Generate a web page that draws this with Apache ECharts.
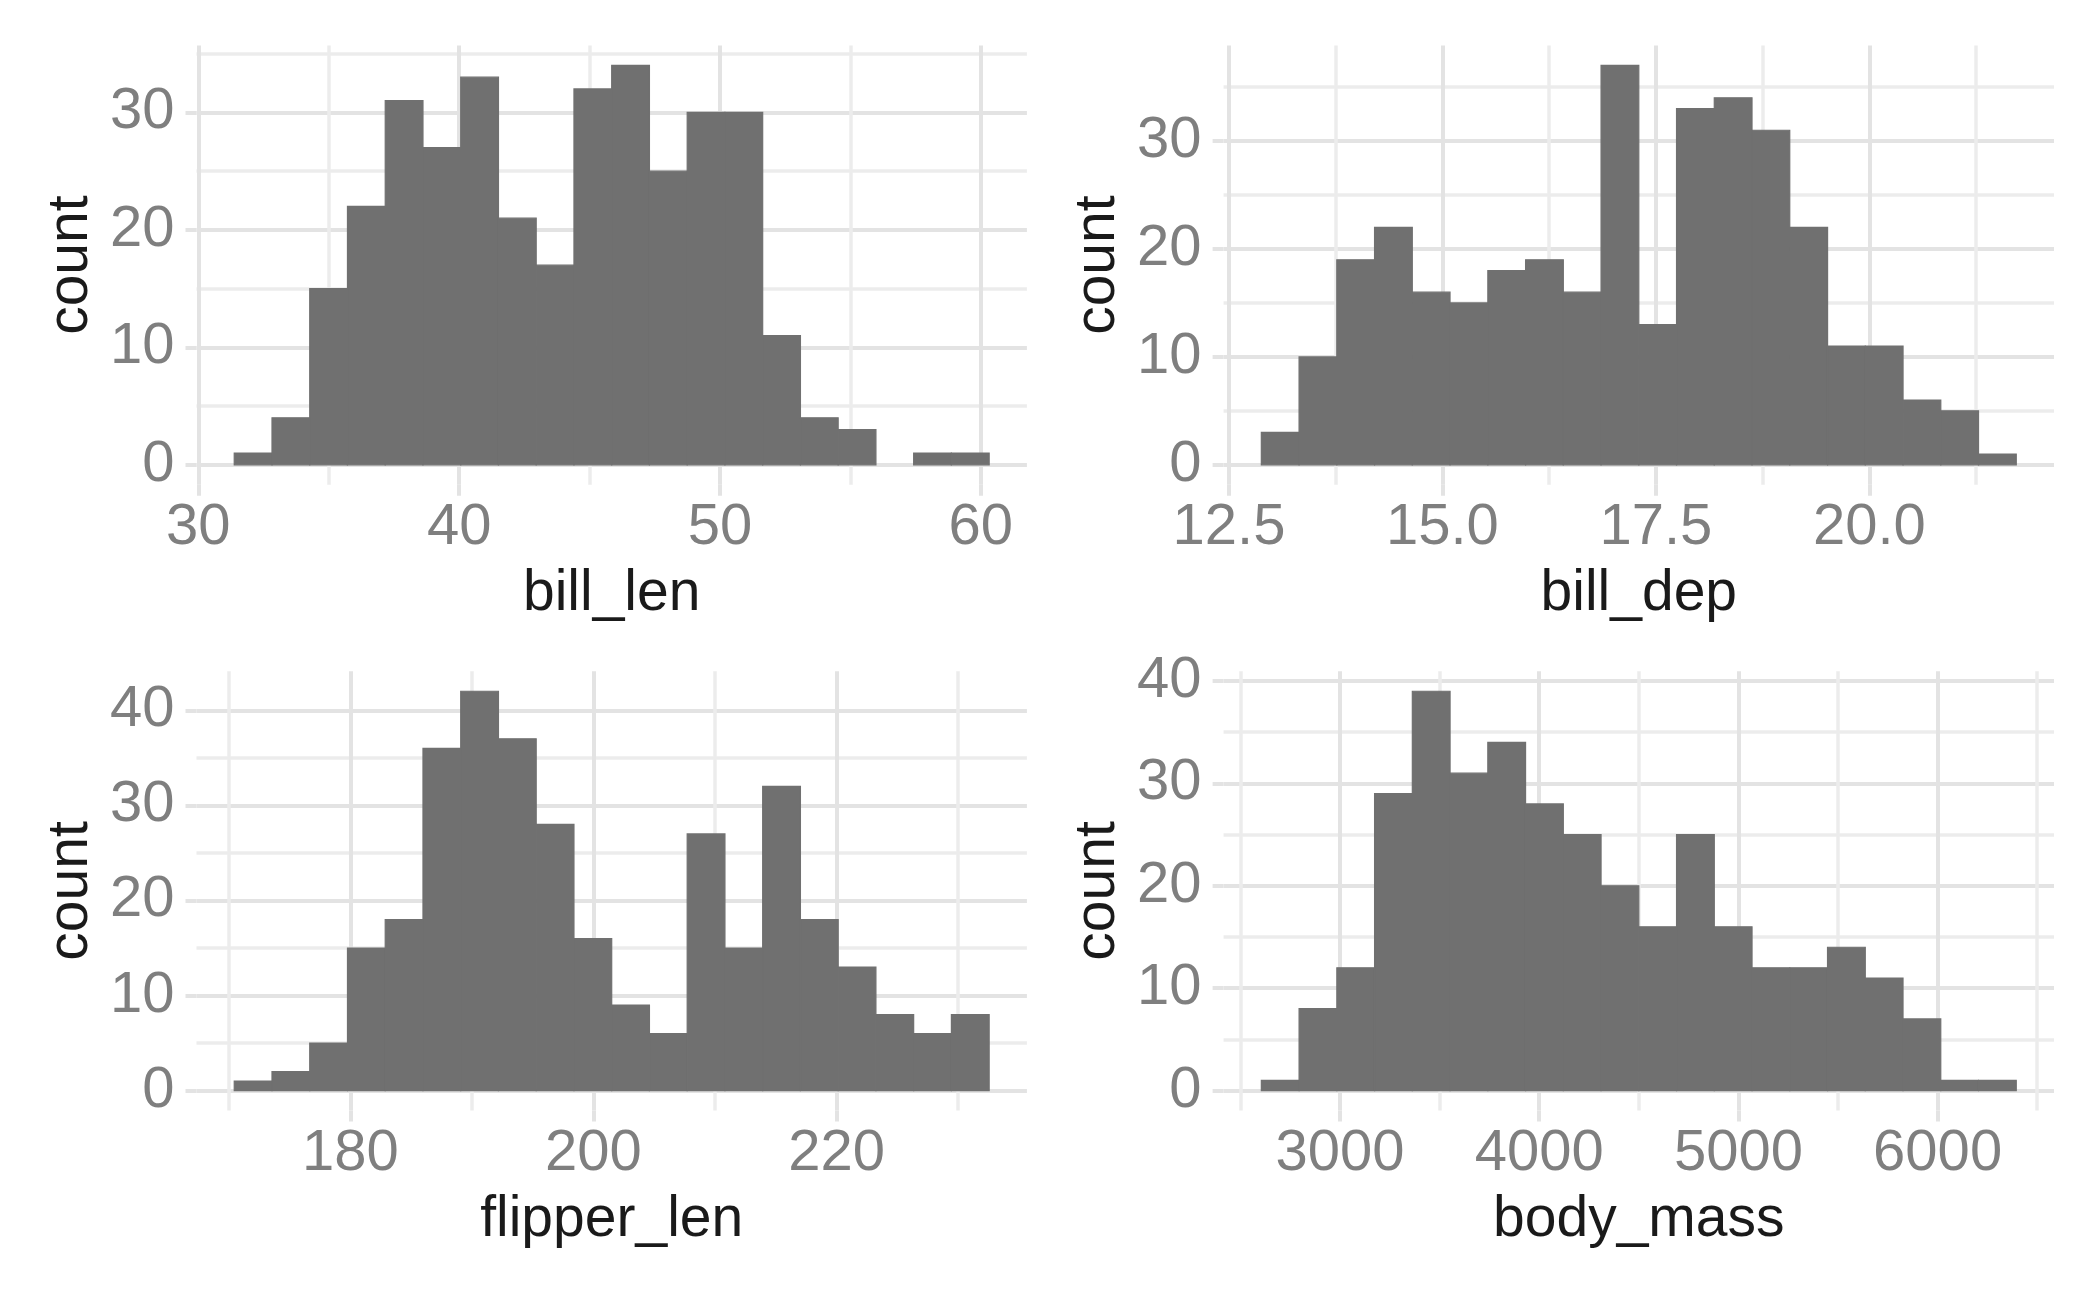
<!DOCTYPE html>
<html><head><meta charset="utf-8">
<script src="https://cdn.jsdelivr.net/npm/echarts@6/dist/echarts.min.js"></script>
<style>html,body{margin:0;padding:0;background:#fff}#c{width:2100px;height:1297px}</style>
</head><body><div id="c"></div>
<script>
// ---- data (histograms, 20 bins each) ----
const billLenEdges = [31.376,32.824,34.271,35.718,37.166,38.613,40.061,41.508,42.955,44.403,45.850,47.297,48.745,50.192,51.639,53.087,54.534,55.982,57.429,58.876,60.324];
const billLenCounts = [1,4,15,22,31,27,33,21,17,32,34,25,30,30,11,4,3,0,1,1];
const billDepEdges = [12.879,13.321,13.763,14.205,14.647,15.089,15.532,15.974,16.416,16.858,17.300,17.742,18.184,18.626,19.068,19.511,19.953,20.395,20.837,21.279,21.721];
const billDepCounts = [3,10,19,22,16,15,18,19,16,37,13,33,34,31,22,11,11,6,5,1];
const flipperLenEdges = [170.447,173.553,176.658,179.763,182.868,185.974,189.079,192.184,195.289,198.395,201.500,204.605,207.711,210.816,213.921,217.026,220.132,223.237,226.342,229.447,232.553];
const flipperLenCounts = [1,2,5,15,18,36,42,37,28,16,9,6,27,15,32,18,13,8,6,8];
const bodyMassEdges = [2605.26,2794.74,2984.21,3173.68,3363.16,3552.63,3742.11,3931.58,4121.05,4310.53,4500.00,4689.47,4878.95,5068.42,5257.89,5447.37,5636.84,5826.32,6015.79,6205.26,6394.74];
const bodyMassCounts = [1,8,12,29,39,31,34,28,25,20,16,25,16,12,12,14,11,7,1,1];

// ---- tick labels ----
const billLenXTicks = [30,40,50,60];
const billLenXMinor = [35,45,55];
const billDepXTicks = [12.5,15,17.5,20];
const billDepXMinor = [13.75,16.25,18.75,21.25];
const flipperLenXTicks = [180,200,220];
const flipperLenXMinor = [170,190,210,230];
const bodyMassXTicks = [3000,4000,5000,6000];
const bodyMassXMinor = [2500,3500,4500,5500,6500];
const countTicks30 = [0,10,20,30];
const countMinor30 = [5,15,25,35];
const countTicks40 = [0,10,20,30,40];
const countMinor40 = [5,15,25,35];

const xTitles = ['bill_len','bill_dep','flipper_len','body_mass'];
const yTitle = 'count';

// ---- layout / styling ----
const FONT = 'Liberation Sans';
const TICK_COL = '#7f7f7f';
const TITLE_COL = '#1a1a1a';
const MAJOR_COL = '#e3e3e3';
const MINOR_COL = '#ececec';
const BAR_COL = '#707070';

const panels = [
  {edges: billLenEdges, counts: billLenCounts, xt: billLenXTicks, xm: billLenXMinor, yt: countTicks30, ym: countMinor30,
   xr: [29.929, 61.771], yr: [-1.7, 35.7], fmt: v => String(v), grid: {left: 196.5, top: 45.5, width: 830.4, height: 439.3}},
  {edges: billDepEdges, counts: billDepCounts, xt: billDepXTicks, xm: billDepXMinor, yt: countTicks30, ym: countMinor30,
   xr: [12.437, 22.163], yr: [-1.85, 38.85], fmt: v => Number(v).toFixed(1), grid: {left: 1223.6, top: 45.5, width: 830.4, height: 439.3}},
  {edges: flipperLenEdges, counts: flipperLenCounts, xt: flipperLenXTicks, xm: flipperLenXMinor, yt: countTicks40, ym: countMinor40,
   xr: [167.342, 235.658], yr: [-2.1, 44.1], fmt: v => String(v), grid: {left: 196.5, top: 671.3, width: 830.4, height: 439.3}},
  {edges: bodyMassEdges, counts: bodyMassCounts, xt: bodyMassXTicks, xm: bodyMassXMinor, yt: countTicks40, ym: countMinor40,
   xr: [2415.79, 6584.21], yr: [-1.95, 40.95], fmt: v => String(v), grid: {left: 1223.6, top: 671.3, width: 830.4, height: 439.3}}
];

const grids = [], xAxes = [], yAxes = [], series = [];
panels.forEach((p, i) => {
  grids.push(Object.assign({containLabel: false, outerBoundsMode: 'none'}, p.grid));
  // major x axis
  xAxes.push({
    type: 'value', gridIndex: i, position: 'bottom', min: p.xr[0], max: p.xr[1],
    name: xTitles[i], nameLocation: 'middle', nameGap: 81,
    nameTextStyle: {fontFamily: FONT, fontSize: 57, color: TITLE_COL},
    axisLine: {show: false, onZero: false},
    axisTick: {show: true, length: 11, customValues: p.xt, lineStyle: {color: MAJOR_COL, width: 4}},
    axisLabel: {show: true, customValues: p.xt, margin: 14, formatter: p.fmt, hideOverlap: false,
      fontFamily: FONT, fontSize: 58, color: TICK_COL},
    splitLine: {show: true, lineStyle: {color: MAJOR_COL, width: 4}},
    minorTick: {show: false}, minorSplitLine: {show: false}
  });
  // minor x axis (grid lines only)
  xAxes.push({
    type: 'value', gridIndex: i, position: 'top', min: p.xr[0], max: p.xr[1],
    axisLine: {show: false, onZero: false},
    axisTick: {show: false, customValues: p.xm},
    axisLabel: {show: false, customValues: p.xm},
    splitLine: {show: true, lineStyle: {color: MINOR_COL, width: 3.5}}
  });
  // major y axis
  yAxes.push({
    type: 'value', gridIndex: i, position: 'left', min: p.yr[0], max: p.yr[1],
    name: yTitle, nameLocation: 'middle', nameRotate: 90, nameGap: 97,
    nameTextStyle: {fontFamily: FONT, fontSize: 57, color: TITLE_COL},
    axisLine: {show: false, onZero: false},
    axisTick: {show: true, length: 11, customValues: p.yt, lineStyle: {color: MAJOR_COL, width: 4}},
    axisLabel: {show: true, customValues: p.yt, margin: 22, formatter: v => String(v), hideOverlap: false,
      padding: [10, 0, 0, 0],
      fontFamily: FONT, fontSize: 58, color: TICK_COL},
    splitLine: {show: true, lineStyle: {color: MAJOR_COL, width: 4}}
  });
  // minor y axis
  yAxes.push({
    type: 'value', gridIndex: i, position: 'right', min: p.yr[0], max: p.yr[1],
    axisLine: {show: false, onZero: false},
    axisTick: {show: false, customValues: p.ym},
    axisLabel: {show: false, customValues: p.ym},
    splitLine: {show: true, lineStyle: {color: MINOR_COL, width: 3.5}}
  });
  const data = p.counts.map((c, k) => [p.edges[k], p.edges[k + 1], c]);
  series.push({
    type: 'custom', xAxisIndex: 2 * i, yAxisIndex: 2 * i, silent: true, animation: false,
    data: data,
    encode: {x: [0, 1], y: 2},
    renderItem: function (params, api) {
      const c = api.value(2);
      if (!c) return null;
      const p0 = api.coord([api.value(0), c]);
      const p1 = api.coord([api.value(1), 0]);
      return {type: 'rect', shape: {x: p0[0], y: p0[1], width: p1[0] - p0[0], height: p1[1] - p0[1]},
        style: {fill: BAR_COL, stroke: BAR_COL, lineWidth: 1.2}};
    }
  });
});

const chart = echarts.init(document.getElementById('c'), null, {renderer: 'canvas'});
chart.setOption({
  backgroundColor: '#ffffff',
  animation: false,
  grid: grids, xAxis: xAxes, yAxis: yAxes, series: series
});
</script>
</body></html>
